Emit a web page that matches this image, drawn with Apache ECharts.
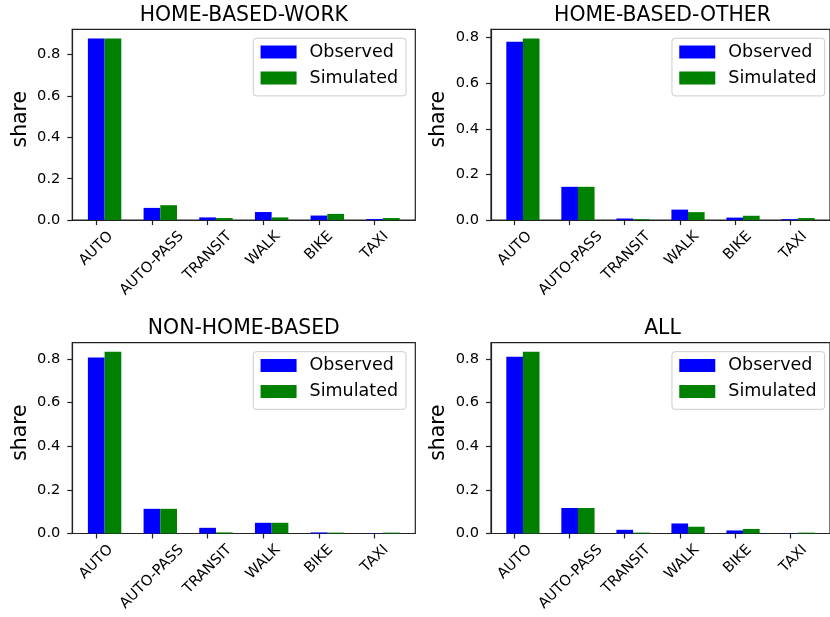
<!DOCTYPE html>
<html>
<head>
<meta charset="utf-8">
<script src="https://cdn.jsdelivr.net/npm/echarts@6/dist/echarts.min.js"></script>
<style>
  html, body { margin: 0; padding: 0; background: #ffffff; }
  #chart { width: 830px; height: 617px; }
</style>
</head>
<body>
<div id="chart"></div>
<script>
// Travel mode categories shown on every panel
const categories = ['AUTO', 'AUTO-PASS', 'TRANSIT', 'WALK', 'BIKE', 'TAXI'];
const panelTitles = ['HOME-BASED-WORK', 'HOME-BASED-OTHER', 'NON-HOME-BASED', 'ALL'];
const seriesNames = ['Observed', 'Simulated'];

// Mode shares per trip purpose
const hbwObserved  = [0.878, 0.059, 0.013, 0.039, 0.022, 0.005];
const hbwSimulated = [0.878, 0.072, 0.010, 0.013, 0.030, 0.010];
const hboObserved  = [0.782, 0.146, 0.007, 0.046, 0.011, 0.004];
const hboSimulated = [0.797, 0.146, 0.004, 0.035, 0.019, 0.009];
const nhbObserved  = [0.806, 0.113, 0.026, 0.049, 0.005, 0.001];
const nhbSimulated = [0.832, 0.113, 0.005, 0.049, 0.004, 0.004];
const allObserved  = [0.810, 0.117, 0.017, 0.046, 0.014, 0.001];
const allSimulated = [0.833, 0.117, 0.004, 0.031, 0.021, 0.004];

// y tick values
const yTicks = [0, 0.2, 0.4, 0.6, 0.8];

const FONT = 'DejaVu Sans';
const TICK_FS = 14.6, LEGEND_FS = 17.5, TITLE_FS = 20.4;
const AXIS_COLOR = '#222222';
const COLORS = ['#0000ff', '#008000'];

// plot area placement
const GRID_W = 343, GRID_H = 190.8;
const panelBoxes = [
  { left: 72.3, top: 29.3 },
  { left: 491, top: 29.3 },
  { left: 72.3, top: 342.7 },
  { left: 491, top: 342.7 }
];
const panelData = [
  [hbwObserved, hbwSimulated],
  [hboObserved, hboSimulated],
  [nhbObserved, nhbSimulated],
  [allObserved, allSimulated]
];

// bar width in category units; second bar sits one bar-width to the right
const BAR_W = 0.3;
const n = categories.length;
const span = (n - 1) + 2 * BAR_W;
const xMin = -BAR_W / 2 - 0.05 * span;
const xMax = (n - 1) + 1.5 * BAR_W + 0.05 * span;
const pxPerUnit = GRID_W / (xMax - xMin);
const barPx = pxPerUnit * BAR_W;
const xTicks = categories.map((_, i) => i);

// measure tick label widths so rotated labels are centred under their ticks
const ctx = document.createElement('canvas').getContext('2d');
ctx.font = TICK_FS + 'px "' + FONT + '"';
const rich = {};
categories.forEach((c, i) => {
  const w = ctx.measureText(c).width;
  rich['c' + i] = {
    fontFamily: FONT, fontSize: TICK_FS, color: '#000', lineHeight: 17,
    padding: [w / 2, w / 2, 0, 0]
  };
});

// label bands: one band per category, centred on the value-axis ticks
const labelBoxes = panelBoxes.map(b => ({
  left: b.left + (0 - xMin) * pxPerUnit - pxPerUnit / 2,
  top: b.top,
  width: n * pxPerUnit,
  height: GRID_H
}));

const chart = echarts.init(document.getElementById('chart'), null, { renderer: 'canvas' });

const plotGrids = panelBoxes.map(b => ({
  left: b.left, top: b.top, width: GRID_W, height: GRID_H,
  show: true, borderColor: AXIS_COLOR, borderWidth: 1.2, backgroundColor: 'transparent'
}));
const labelGrids = labelBoxes.map(b => ({
  left: b.left, top: b.top, width: b.width, height: b.height, show: false
}));

const valueXAxes = panelBoxes.map((b, i) => ({
  type: 'value', gridIndex: i, min: xMin, max: xMax,
  splitLine: { show: false },
  axisLine: { show: true, onZero: false, lineStyle: { color: AXIS_COLOR, width: 1.2 } },
  axisTick: { show: true, length: 5, customValues: xTicks, lineStyle: { color: AXIS_COLOR, width: 1.2 } },
  axisLabel: { show: false }
}));
const labelXAxes = labelBoxes.map((b, i) => ({
  type: 'category', gridIndex: 4 + i, data: categories, position: 'bottom',
  axisLine: { show: false },
  axisTick: { show: false },
  splitLine: { show: false },
  axisLabel: {
    interval: 0,
    rotate: 45,
    align: 'center',
    verticalAlign: 'middle',
    margin: 14,
    formatter: (value, idx) => '{c' + idx + '|' + value + '}',
    rich: rich
  }
}));

const valueYAxes = panelBoxes.map((b, i) => {
  const maxVal = Math.max(...panelData[i][0], ...panelData[i][1]);
  return {
    type: 'value', gridIndex: i, min: 0, max: maxVal * 1.05,
    splitLine: { show: false },
    axisLine: { show: true, onZero: false, lineStyle: { color: AXIS_COLOR, width: 1.2 } },
    axisTick: { show: true, length: 5, customValues: yTicks, lineStyle: { color: AXIS_COLOR, width: 1.2 } },
    axisLabel: {
      customValues: yTicks, margin: 12,
      showMinLabel: true,
      formatter: v => v.toFixed(1),
      fontFamily: FONT, fontSize: TICK_FS, color: '#000'
    },
    name: 'share',
    nameLocation: 'middle',
    nameGap: 42,
    nameTextStyle: { fontFamily: FONT, fontSize: TITLE_FS, color: '#000', padding: [0, 0, 0, 11] }
  };
});
const labelYAxes = labelBoxes.map((b, i) => ({
  type: 'value', gridIndex: 4 + i, show: false
}));

const option = {
  animation: false,
  backgroundColor: '#ffffff',
  title: panelBoxes.map((b, i) => ({
    text: panelTitles[i],
    left: b.left + GRID_W / 2,
    top: b.top - 24,
    textAlign: 'center',
    padding: 0,
    textStyle: { fontFamily: FONT, fontSize: TITLE_FS, fontWeight: 'normal', color: '#000' }
  })),
  legend: panelBoxes.map((b, i) => ({
    data: seriesNames,
    orient: 'vertical',
    right: 830 - (b.left + GRID_W) + 9.3,
    top: b.top + 9,
    icon: 'rect',
    itemWidth: 36,
    itemHeight: 13,
    itemGap: 8,
    padding: [4.7, 8, 8.9, 7.3],
    borderColor: '#cccccc',
    borderWidth: 1,
    borderRadius: 3,
    backgroundColor: 'rgba(255,255,255,0.8)',
    textStyle: { fontFamily: FONT, fontSize: LEGEND_FS, color: '#000', padding: [0, 0, 0, 8] }
  })),
  grid: plotGrids.concat(labelGrids),
  xAxis: valueXAxes.concat(labelXAxes),
  yAxis: valueYAxes.concat(labelYAxes),
  series: panelData.flatMap((pair, i) => pair.map((vals, s) => ({
    type: 'bar',
    name: seriesNames[s],
    xAxisIndex: i,
    yAxisIndex: i,
    barWidth: barPx,
    barGap: '-100%',
    itemStyle: { color: COLORS[s] },
    emphasis: { disabled: true },
    data: vals.map((v, k) => [k + s * BAR_W, v])
  })))
};

chart.setOption(option);
</script>
</body>
</html>
